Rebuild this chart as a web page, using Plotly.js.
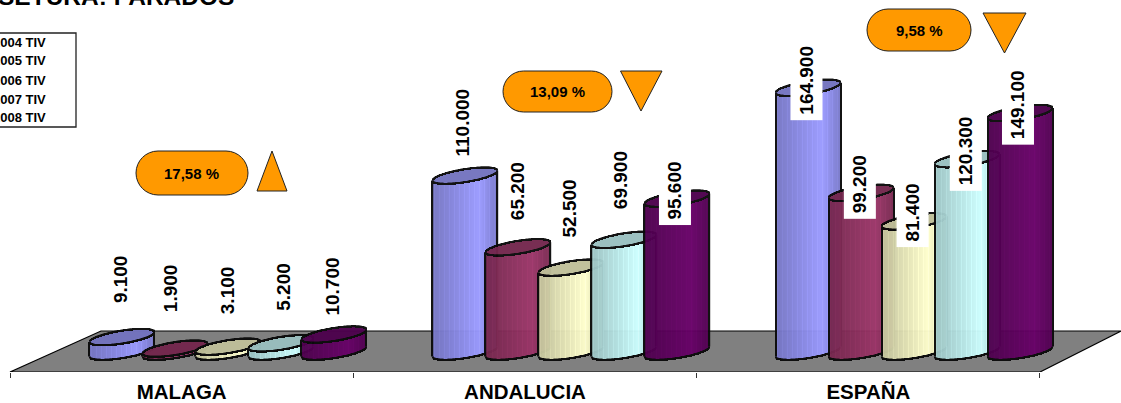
<!DOCTYPE html>
<html><head><meta charset="utf-8">
<script src="https://cdn.plot.ly/plotly-3.0.1.min.js"></script>
<style>html,body{margin:0;padding:0;background:#fff;overflow:hidden}#c{width:1121px;height:403px}</style>
</head><body><div id="c"></div>
<script>
// ---- data ----
const categories = ['MALAGA', 'ANDALUCIA', 'ESPAÑA'];
const seriesNames = ['2004 TIV', '2005 TIV', '2006 TIV', '2007 TIV', '2008 TIV'];
const v2004 = [9100, 110000, 164900];
const v2005 = [1900, 65200, 99200];
const v2006 = [3100, 52500, 81400];
const v2007 = [5200, 69900, 120300];
const v2008 = [10700, 95600, 149100];
const changeLabels = ['17,58 %', '13,09 %', '9,58 %'];
const changeDirection = ['up', 'down', 'down'];
const titleText = 'SETURA: PARADOS';

// ---- style ----
const seriesColors = [[153,153,255],[153,51,102],[255,255,204],[204,255,255],[102,0,102]];
const W = 1121, H = 403, plotH = 372;
const groupPx = 343.33, kPx = 1.6, zeroPx = 351.5;
const X = p => (p - 10) / groupPx - 0.5;
const Y = p => (zeroPx - p) / kPx * 1000;
const dX = p => p / groupPx;
const dY = p => p / kPx * 1000;
const PX = p => p / W, PY = p => (plotH - p) / plotH;
const font = 'Liberation Sans, Arial, sans-serif';
const halfW = 32.5, tilt = 5, halfH = 6.5, slot = 53, depth = 46;
const rgb = (c, f) => 'rgb(' + c.map(v => Math.min(255, Math.round(v * f))).join(',') + ')';
function shade(t, k) {
  const base = t < 0.72 ? 0.76 + 0.24 * t / 0.72 : 1 - 0.22 * (t - 0.72) / 0.28;
  return k % 5 === 2 ? base * 1.05 : base;
}
const allValues = [v2004, v2005, v2006, v2007, v2008];
const labelXShift = [[-0.5,-3.5,0,2.5,-1],[-3,-1,-1,-4,-2],[-1.5,-1.5,-1.5,-1.5,-2.5]];
const labelYShift = [[58,60.5,56,56.6,47.5],[53,56,59,59.5,8],[7.8,8.3,8.5,8.5,8.6]];

const traces = allValues.map((vals, si) => {
  const x = [], y = [], base = [], width = [], color = [];
  const add = (cx, lo, hi, w, c) => { x.push(cx); base.push(lo); y.push(hi - lo); width.push(w); color.push(c); };
  vals.forEach((v, gi) => {
    const cx = gi + dX(depth + (si - 2) * slot);
    const col = seriesColors[si];
    const n = 2 * halfW;
    const arcs = u => ({ tilt: tilt * u, round: halfH * Math.sqrt(Math.max(0, 1 - u * u)) });
    for (let k = 0; k < n; k++) {
      const u = (k + 0.5) / n * 2 - 1, a = arcs(u), xk = cx + dX(u * halfW);
      add(xk, dY(a.tilt - a.round), v + dY(a.tilt - a.round), dX(1), rgb(col, shade(k / n, k)));
    }
    for (let k = 0; k < n; k++) {
      const u = (k + 0.5) / n * 2 - 1, a = arcs(u), xk = cx + dX(u * halfW);
      add(xk, v + dY(a.tilt - a.round), v + dY(a.tilt + a.round), dX(1), rgb(col, 0.75));
    }
    const ink = 'rgb(10,10,10)', lw = 1.6;
    for (let k = 0; k < n; k++) {
      const u = (k + 0.5) / n * 2 - 1, a = arcs(u), xk = cx + dX(u * halfW);
      const u2 = Math.min(1, Math.abs(u) + 1 / n);
      const steep = halfH * (Math.sqrt(Math.max(0, 1 - Math.abs(u) * Math.abs(u))) - Math.sqrt(Math.max(0, 1 - u2 * u2)));
      const t = Math.max(lw, steep + lw * 0.6);
      add(xk, dY(a.tilt - a.round - t / 2), dY(a.tilt - a.round + t / 2), dX(1), ink);
      add(xk, v + dY(a.tilt - a.round - t / 2), v + dY(a.tilt - a.round + t / 2), dX(1), ink);
      add(xk, v + dY(a.tilt + a.round - t / 2), v + dY(a.tilt + a.round + t / 2), dX(1), ink);
    }
    add(cx - dX(halfW), dY(-tilt), v + dY(-tilt), dX(1.4), ink);
    add(cx + dX(halfW), dY(tilt), v + dY(tilt), dX(1.4), ink);
  });
  return { type: 'bar', name: seriesNames[si], x, y, base, width, opacity: 0.96, showlegend: false,
           hoverinfo: 'skip', marker: { color, line: { width: 0 } } };
});

// ---- annotations ----
const annotations = [];
allValues.forEach((vals, si) => vals.forEach((v, gi) => {
  annotations.push({
    xref: 'x', yref: 'y', x: gi + dX(depth + (si - 2) * slot), y: v,
    xshift: labelXShift[gi][si], yshift: labelYShift[gi][si],
    text: v.toLocaleString('de-DE'), textangle: -90, showarrow: false,
    xanchor: 'center', yanchor: 'middle', bgcolor: '#fff', borderpad: 5,
    font: { family: font, size: 19, color: '#000', weight: 700 }
  });
}));
seriesNames.forEach((s, i) => annotations.push({
  xref: 'paper', yref: 'paper', x: PX(47.5), y: PY([42, 61, 80, 99, 117][i]), text: s, showarrow: false,
  xanchor: 'right', yanchor: 'middle', font: { family: font, size: 13, color: '#000', weight: 700 }
}));
annotations.push({ xref: 'paper', yref: 'paper', x: PX(236), y: PY(-3.5), text: titleText, showarrow: false,
  xanchor: 'right', yanchor: 'middle', font: { family: font, size: 24.5, color: '#000', weight: 700 } });

const pills = [
  { x0: 136, x1: 248, y0: 151, y1: 195, tri: [[272,151],[257,191],[287,191]] },
  { x0: 503, x1: 612, y0: 71, y1: 112, tri: [[620.5,71],[662,71],[641,111]] },
  { x0: 867, x1: 971, y0: 9, y1: 51, tri: [[983,13],[1026,13],[1004.5,53]] }
];
const P = (x, y) => X(x) + ',' + Y(y);
const shapes = [];
shapes.push({ type: 'path', layer: 'below', xref: 'x', yref: 'y',
  path: 'M' + P(10,372) + 'L' + P(101,331) + 'L' + P(1130,331) + 'L' + P(1121,331) + 'L' + P(1040,372) + 'Z',
  fillcolor: '#808080', line: { color: '#000', width: 1.2 } });
shapes.push({ type: 'rect', xref: 'x', yref: 'y', x0: X(-5), x1: X(76), y0: Y(33), y1: Y(127),
  fillcolor: '#fff', line: { color: '#222', width: 1.3 }, layer: 'above' });
pills.forEach((p, i) => {
  const r = (p.y1 - p.y0) / 2, c = r * 0.55;
  const d = 'M' + P(p.x0 + r, p.y0) + 'L' + P(p.x1 - r, p.y0) +
    'C' + P(p.x1 - r + c, p.y0) + ' ' + P(p.x1, p.y0 + r - c) + ' ' + P(p.x1, p.y0 + r) +
    'C' + P(p.x1, p.y0 + r + c) + ' ' + P(p.x1 - r + c, p.y1) + ' ' + P(p.x1 - r, p.y1) +
    'L' + P(p.x0 + r, p.y1) +
    'C' + P(p.x0 + r - c, p.y1) + ' ' + P(p.x0, p.y0 + r + c) + ' ' + P(p.x0, p.y0 + r) +
    'C' + P(p.x0, p.y0 + r - c) + ' ' + P(p.x0 + r - c, p.y0) + ' ' + P(p.x0 + r, p.y0) + 'Z';
  shapes.push({ type: 'path', xref: 'x', yref: 'y', path: d, fillcolor: '#FF9900', line: { color: '#222', width: 1 } });
  shapes.push({ type: 'path', xref: 'x', yref: 'y', fillcolor: '#FF9900', line: { color: '#222', width: 1 },
    path: 'M' + p.tri.map(q => P(q[0], q[1])).join('L') + 'Z' });
  annotations.push({ xref: 'paper', yref: 'paper', x: PX((p.x0 + p.x1) / 2), y: PY((p.y0 + p.y1) / 2),
    text: changeLabels[i], showarrow: false, xanchor: 'center', yanchor: 'middle',
    font: { family: font, size: 15, color: '#000', weight: 700 } });
});

const layout = {
  width: W, height: H, margin: { l: 0, r: 0, t: 0, b: H - plotH, pad: 0 },
  paper_bgcolor: '#fff', plot_bgcolor: 'rgba(0,0,0,0)', barmode: 'overlay', showlegend: false,
  xaxis: { range: [X(0), X(W)], tickmode: 'array', tickvals: [0, 1, 2], ticktext: categories, ticks: '', showgrid: false,
    zeroline: false, showline: false, fixedrange: true, ticklabelstandoff: 5,
    tickfont: { family: font, size: 20.5, color: '#000', weight: 700 },
    minor: { tickmode: 'array', tickvals: [-0.5, 0.5, 1.5, 2.5], ticks: 'outside', ticklen: 5, tickcolor: '#333', tickwidth: 1, showgrid: false } },
  yaxis: { range: [Y(plotH), Y(0)], visible: false, fixedrange: true },
  annotations, shapes
};
Plotly.newPlot('c', traces, layout, { displayModeBar: false, responsive: false });
</script></body></html>
